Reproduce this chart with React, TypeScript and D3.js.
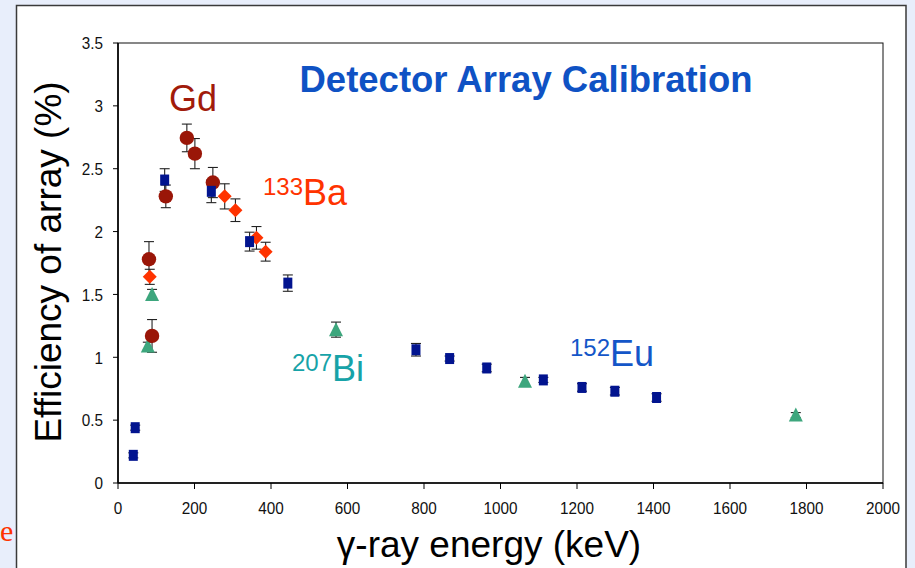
import React from "react";
import * as d3 from "d3";

// Gamma-ray calibration sources: energy (keV), efficiency (%), error (%)
const euEnergy = [40, 45, 122, 244, 344, 444, 779, 867, 964, 1112, 1213, 1299, 1408];
const euEff = [0.22, 0.44, 2.41, 2.32, 1.92, 1.59, 1.06, 0.99, 0.915, 0.82, 0.76, 0.73, 0.68];
const euErr = [0.02, 0.02, 0.09, 0.09, 0.075, 0.065, 0.05, 0.02, 0.03, 0.02, 0.03, 0.03, 0.03];

const baEnergy = [83, 279, 307, 362, 386];
const baEff = [1.64, 2.28, 2.17, 1.95, 1.84];
const baErr = [0.06, 0.1, 0.09, 0.09, 0.075];

const gdEnergy = [81, 89, 125, 180, 201, 248];
const gdEff = [1.78, 1.17, 2.28, 2.745, 2.62, 2.39];
const gdErr = [0.14, 0.13, 0.09, 0.11, 0.12, 0.12];

const biEnergy = [78, 89, 570, 1064, 1772];
const biEff = [1.09, 1.5, 1.22, 0.81, 0.54];
const biErr = [0.03, 0.04, 0.06, 0.03, 0.02];

const xTicks = [0, 200, 400, 600, 800, 1000, 1200, 1400, 1600, 1800, 2000];
const yTicks = [0, 0.5, 1, 1.5, 2, 2.5, 3, 3.5];

const W = 915;
const H = 568;
const plot = { left: 118, right: 883, top: 43, bottom: 483 };

const FONT = "'Liberation Sans', Arial, Helvetica, sans-serif";

const x = d3.scaleLinear().domain([0, 2000]).range([plot.left, plot.right]);
const y = d3.scaleLinear().domain([0, 3.5]).range([plot.bottom, plot.top]);

type Pt = { e: number; v: number; err: number };
const zipSeries = (e: number[], v: number[], err: number[]): Pt[] =>
  e.map((en, i) => ({ e: en, v: v[i], err: err[i] }));

const euPts = zipSeries(euEnergy, euEff, euErr);
const baPts = zipSeries(baEnergy, baEff, baErr);
const gdPts = zipSeries(gdEnergy, gdEff, gdErr);
const biPts = zipSeries(biEnergy, biEff, biErr);

const fmtY = (d: number) => (d === 0 ? "0" : d3.format("~g")(d));

function ErrorBars({ pts }: { pts: Pt[] }) {
  const cap = 5;
  return (
    <g stroke="#222" strokeWidth={1.1} fill="none">
      {pts.map((p, i) => {
        const cx = x(p.e);
        const y1 = y(p.v + p.err);
        const y2 = y(p.v - p.err);
        return (
          <g key={i}>
            <line x1={cx} x2={cx} y1={y1} y2={y2} />
            <line x1={cx - cap} x2={cx + cap} y1={y1} y2={y1} />
            <line x1={cx - cap} x2={cx + cap} y1={y2} y2={y2} />
          </g>
        );
      })}
    </g>
  );
}

const squareSym = d3.symbol().type(d3.symbolSquare).size(100);
const diamondPath = (s: number) => `M0,${-s}L${s},0L0,${s}L${-s},0Z`;
const trianglePath = (w: number, h: number) =>
  `M0,${-h / 2 - 1}L${w / 2},${h / 2}L${-w / 2},${h / 2}Z`;

export default function App() {
  return (
    <svg
      width={W}
      height={H}
      viewBox={`0 0 ${W} ${H}`}
      style={{ position: "absolute", left: 0, top: 0, display: "block" }}
      fontFamily={FONT}
    >
      <rect x={0} y={0} width={W} height={H} fill="#E8EEFB" />
      <rect
        x={16.5}
        y={5.5}
        width={889.5}
        height={H + 10}
        fill="#FFFFFF"
        stroke="#3A3A3A"
        strokeWidth={1.5}
      />
      <text
        x={0}
        y={541}
        fontFamily="'Liberation Serif', 'Times New Roman', serif"
        fontSize={30}
        fill="#FF3300"
      >
        e
      </text>

      {/* plot frame */}
      <rect
        x={plot.left}
        y={plot.top}
        width={plot.right - plot.left}
        height={plot.bottom - plot.top}
        fill="none"
        stroke="#111"
        strokeWidth={1}
      />
      <line x1={plot.left} x2={plot.left} y1={plot.top} y2={plot.bottom} stroke="#000" strokeWidth={1.6} />
      <line x1={plot.left} x2={plot.right} y1={plot.bottom} y2={plot.bottom} stroke="#000" strokeWidth={1.6} />

      {/* y axis */}
      <g>
        {yTicks.map((t) => (
          <g key={t} transform={`translate(0,${y(t)})`}>
            <line x1={plot.left - 5} x2={plot.left} stroke="#000" strokeWidth={1} />
            <text
              x={0}
              y={0}
              transform={`translate(${plot.left - 15},0) scale(0.9,1)`}
              textAnchor="end"
              dominantBaseline="central"
              fontSize={17}
              fill="#111"
            >
              {fmtY(t)}
            </text>
          </g>
        ))}
      </g>

      {/* x axis */}
      <g>
        {xTicks.map((t) => (
          <g key={t} transform={`translate(${x(t)},0)`}>
            <line y1={plot.bottom} y2={plot.bottom + 6} stroke="#000" strokeWidth={1} />
            <text
              transform={`translate(0,${plot.bottom + 31}) scale(0.9,1)`}
              textAnchor="middle"
              fontSize={17}
              fill="#111"
            >
              {t}
            </text>
          </g>
        ))}
      </g>

      <text
        transform={`translate(61,262) rotate(-90)`}
        textAnchor="middle"
        fontSize={37}
        fill="#000"
      >
        Efficiency of array (%)
      </text>
      <text x={489} y={557} textAnchor="middle" fontSize={37} fill="#000">
        γ-ray energy (keV)
      </text>

      <text
        x={526}
        y={92}
        textAnchor="middle"
        fontSize={36.5}
        fontWeight="bold"
        fill="#0F52C4"
      >
        Detector Array Calibration
      </text>

      {/* source labels */}
      <text x={169} y={111} fontSize={36} fill="#A11B0B">
        Gd
      </text>
      <text y={205} fontSize={36} fill="#FF3300">
        <tspan x={263} dy={-10} fontSize={24}>
          133
        </tspan>
        <tspan dy={10}>Ba</tspan>
      </text>
      <text y={381} fontSize={36} fill="#17A3A8">
        <tspan x={292} dy={-10} fontSize={24}>
          207
        </tspan>
        <tspan dy={10}>Bi</tspan>
      </text>
      <text y={366} fontSize={36} fill="#1456C8">
        <tspan x={570} dy={-10} fontSize={24}>
          152
        </tspan>
        <tspan dy={10}>Eu</tspan>
      </text>

      {/* error bars */}
      <ErrorBars pts={gdPts} />
      <ErrorBars pts={baPts} />
      <ErrorBars pts={biPts} />
      <ErrorBars pts={euPts} />

      {/* markers */}
      <g fill="#3DA67D">
        {biPts.map((p, i) => (
          <path key={i} d={trianglePath(14, 13)} transform={`translate(${x(p.e)},${y(p.v)})`} />
        ))}
      </g>
      <g fill="#9A1608">
        {gdPts.map((p, i) => (
          <circle key={i} cx={x(p.e)} cy={y(p.v)} r={7.2} />
        ))}
      </g>
      <g fill="#FF3300">
        {baPts.map((p, i) => (
          <path key={i} d={diamondPath(7)} transform={`translate(${x(p.e)},${y(p.v)})`} />
        ))}
      </g>
      <g fill="#02148F">
        {euPts.map((p, i) => (
          <path
            key={i}
            d={squareSym() as string}
            transform={`translate(${x(p.e)},${y(p.v)}) scale(0.9,1.1)`}
          />
        ))}
      </g>
    </svg>
  );
}
